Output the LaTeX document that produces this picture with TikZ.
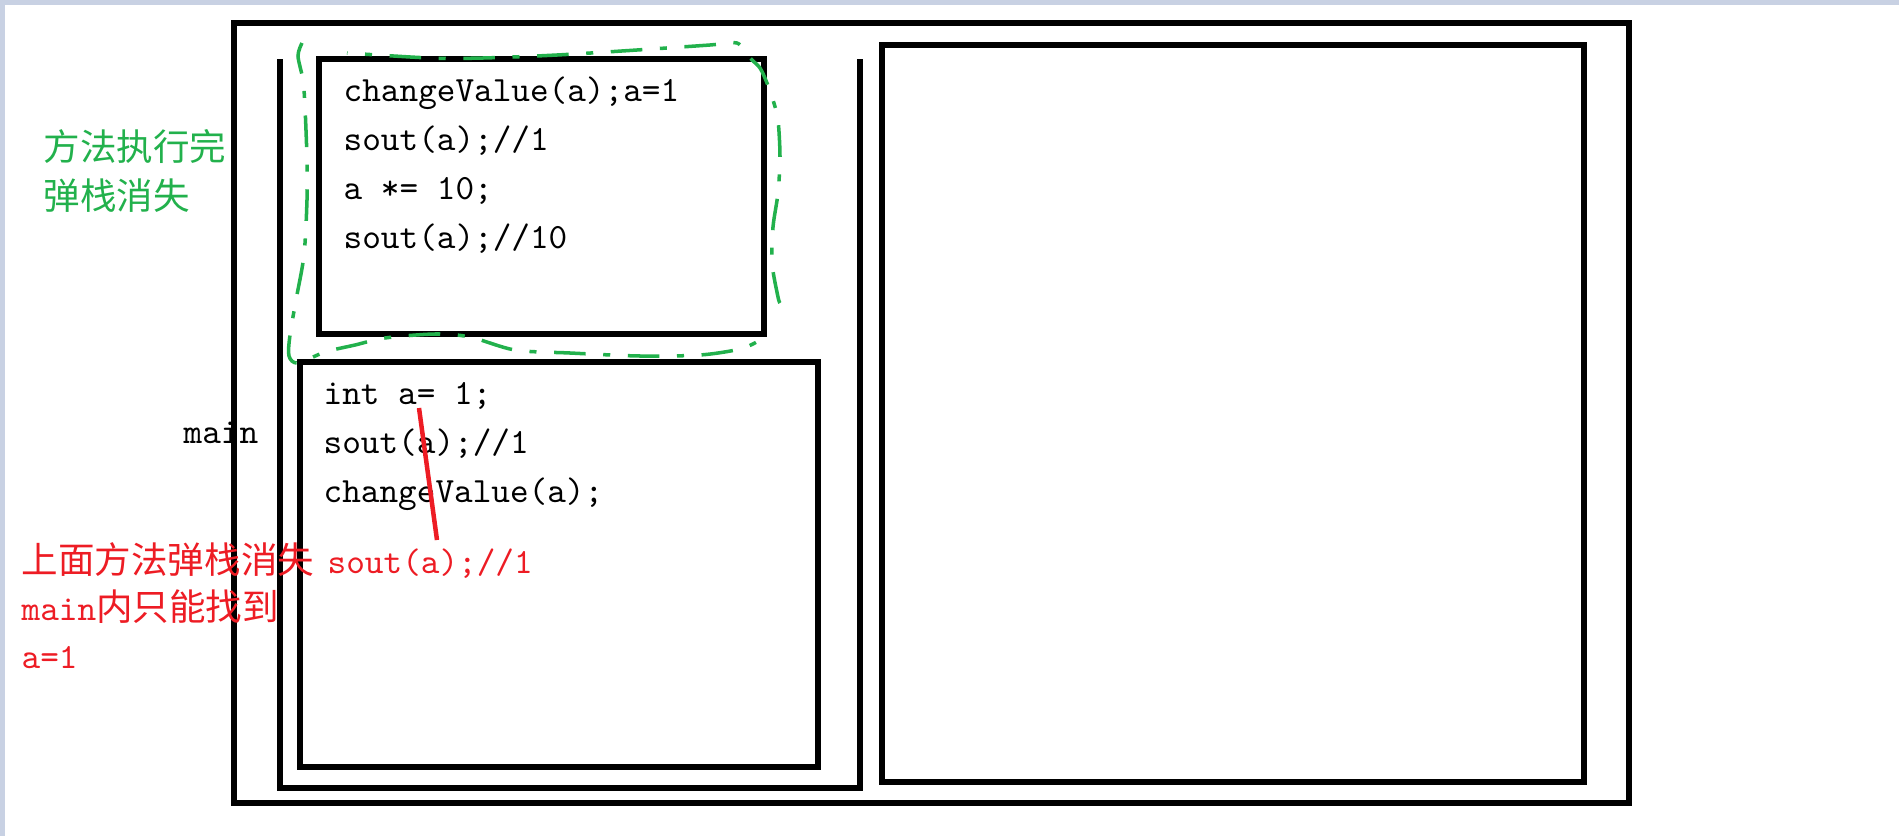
\documentclass[tikz,border=0pt]{standalone}
\usepackage{fontspec}
\usepackage{tkz-euclide}
\newfontfamily\hanzi{Noto Sans CJK SC}
\newcommand\codefont{\ttfamily\fontsize{10.1pt}{12pt}\selectfont}
\newcommand\hanzifont{\hanzi\fontsize{10.4pt}{12pt}\selectfont}
\definecolor{paintgreen}{RGB}{34,177,76}
\definecolor{paintred}{RGB}{237,28,36}
\definecolor{barblue}{RGB}{200,209,227}

\begin{document}
\begin{tikzpicture}[
    scale=1.0,
    box/.style={line width=1.5pt, line join=miter, line cap=rect},
    code/.style={font=\codefont, anchor=base west, inner sep=0pt},
    note/.style={font=\hanzifont, anchor=base west, inner sep=0pt},
    pen/.style={paintgreen, line width=1pt,
      dash pattern=on 9pt off 5pt on 2pt off 5pt}
  ]
    % 初始化
    \tkzInit[xmin=0,xmax=18.99, ymin=0,ymax=8.36]
    \path[use as bounding box] (0,0) rectangle (18.99,8.36);
    \tkzClip
    % 窗口边条
    \fill[barblue] (0,8.31) rectangle (18.99,8.36);
    \fill[barblue] (0,0) rectangle (0.05,8.36);
    % 定义外框、栈、堆、两个栈帧的顶点
    \tkzDefPoints{2.34/8.13/O1, 16.29/8.13/O2, 16.29/0.33/O3, 2.34/0.33/O4}
    \tkzDefPoints{2.80/7.77/S1, 2.80/0.48/S2, 8.60/0.48/S3, 8.60/7.77/S4}
    \tkzDefPoints{8.82/7.91/H1, 15.84/7.91/H2, 15.84/0.54/H3, 8.82/0.54/H4}
    \tkzDefPoints{3.19/7.77/F1, 7.64/7.77/F2, 7.64/5.02/F3, 3.19/5.02/F4}
    \tkzDefPoints{3.00/4.74/M1, 8.18/4.74/M2, 8.18/0.69/M3, 3.00/0.69/M4}
    % 绘制外框
    \tkzDrawPolygon[box](O1,O2,O3,O4)
    % 绘制栈(上方开口)
    \tkzDrawPolySeg[box, line cap=butt](S1,S2,S3,S4)
    % 绘制堆
    \tkzDrawPolygon[box](H1,H2,H3,H4)
    % 绘制changeValue栈帧和main栈帧
    \tkzDrawPolygon[box](F1,F2,F3,F4)
    \tkzDrawPolygon[box](M1,M2,M3,M4)

    % changeValue栈帧里的代码
    \node[code] (fa) at (3.43,7.35) {changeValue(a);a=1};
    \node[code] (fb) at (3.43,6.86) {sout(a);//1};
    \node[code] (fc) at (3.43,6.37) {a *= 10;};
    \node[code] (fd) at (3.43,5.88) {sout(a);//10};
    % main栈帧里的代码
    \node[code] (ma) at (3.23,4.32) {int a= 1;};
    \node[code] (mb) at (3.23,3.83) {sout(a);//1};
    \node[code] (mc) at (3.23,3.34) {changeValue(a);};
    \node[code, paintred] (md) at (3.27,2.63) {sout(a);//1};
    \node[code] (mainlbl) at (1.83,3.93) {main};

    % 绿色说明
    \node[note, paintgreen] (ga) at (0.43,6.76) {方法执行完};
    \node[note, paintgreen] (gb) at (0.43,6.27) {弹栈消失};
    % 红色说明
    \node[note, paintred] (ra) at (0.21,2.63) {上面方法弹栈消失};
    \node[code, paintred] (rb) at (0.21,2.16) {main{\hanzifont 内只能找到}};
    \node[code, paintred] (rc) at (0.21,1.68) {a=1};

    % 红线: 从a连到下面的sout(a)
    \coordinate (r1) at (4.19,4.28);
    \coordinate (r2) at (4.37,2.96);
    \draw[paintred, line width=0.045cm] (r1) -- (r2);

    % 绿色虚线圈: 右边和上边
    \draw[pen] plot[smooth] coordinates {(7.80,5.33) (7.78,5.39) (7.72,5.73)
      (7.73,6.09) (7.78,6.43) (7.80,6.79) (7.78,7.16) (7.73,7.36) (7.67,7.53)
      (7.60,7.68) (7.50,7.78) (7.37,7.93) (7.10,7.91) (6.37,7.86) (5.57,7.81)
      (4.83,7.78) (4.30,7.78) (3.47,7.83)};
    % 绿色虚线圈: 左边和下边
    \draw[pen] plot[smooth] coordinates {(3.02,7.93) (2.98,7.80) (3.03,7.56)
      (3.05,7.29) (3.07,6.76) (3.07,6.36) (3.04,5.81) (2.96,5.36) (2.90,5.01)
      (2.89,4.80) (2.98,4.73) (3.25,4.84) (3.55,4.91) (3.85,4.98) (4.35,5.02)
      (4.70,4.99) (5.15,4.86) (5.70,4.83) (6.40,4.80) (7.00,4.81) (7.40,4.87)
      (7.60,4.96) (7.66,5.03)};
 \end{tikzpicture}
\end{document}
